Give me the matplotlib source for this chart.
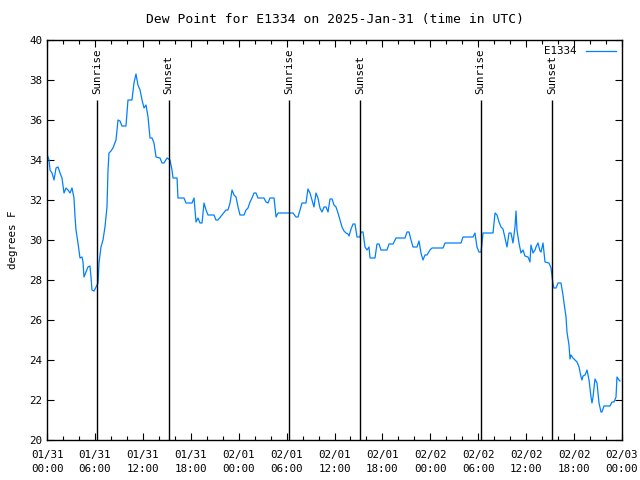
import matplotlib
matplotlib.use('Agg')
import matplotlib.pyplot as plt
import matplotlib.dates as mdates
import pandas as pd

# hours after 2025-01-31 00:00 UTC
hours = [0.0, 0.25, 0.38, 0.63, 0.88, 1.13, 1.38, 1.63, 1.88, 2.13, 2.38, 2.63, 2.88, 3.13, 3.38,
         3.51, 3.63, 3.88, 4.13, 4.38, 4.51, 4.63, 4.88, 5.13, 5.38, 5.51, 5.63, 5.89, 6.14, 6.39,
         6.51, 6.76, 7.01, 7.26, 7.51, 7.64, 7.76, 8.01, 8.26, 8.64, 8.89, 9.14, 9.39, 9.89, 10.14,
         10.64, 10.89, 11.14, 11.39, 11.65, 11.90, 12.15, 12.40, 12.65, 12.90, 13.15, 13.40, 13.65,
         14.15, 14.40, 14.65, 15.03, 15.40, 15.65, 15.78, 16.28, 16.40, 17.15, 17.41, 18.16, 18.41,
         18.66, 18.91, 19.16, 19.41, 19.66, 19.91, 20.16, 20.91, 21.16, 21.41, 21.91, 22.41, 22.66,
         22.92, 23.17, 23.42, 23.67, 23.92, 24.17, 24.67, 24.92, 25.17, 25.42, 25.67, 25.92, 26.17,
         26.42, 27.17, 27.42, 27.67, 27.92, 28.43, 28.68, 28.93, 30.80, 31.18, 31.43, 31.68, 31.93,
         32.43, 32.68, 32.93, 33.18, 33.43, 33.68, 33.93, 34.18, 34.43, 34.69, 34.94, 35.19, 35.44,
         35.69, 35.94, 36.19, 36.44, 36.69, 36.94, 37.19, 37.44, 37.69, 37.82, 38.07, 38.32, 38.57,
         38.82, 39.19, 39.32, 39.57, 39.82, 40.07, 40.32, 40.45, 41.07, 41.32, 41.57, 41.82, 42.57,
         42.83, 43.33, 43.70, 44.83, 45.08, 45.33, 45.58, 45.83, 46.33, 46.58, 46.83, 47.08, 47.33,
         47.58, 47.96, 48.21, 49.59, 49.84, 51.84, 52.09, 53.34, 53.59, 53.84, 54.09, 54.35, 54.60,
         55.85, 56.10, 56.35, 56.60, 56.85, 57.10, 57.35, 57.60, 57.85, 58.10, 58.35, 58.60, 58.73,
         58.85, 59.10, 59.35, 59.60, 59.85, 60.23, 60.48, 60.60, 60.86, 61.11, 61.23, 61.48, 61.73,
         61.86, 62.11, 62.36, 62.86, 63.11, 63.36, 63.48, 63.74, 63.99, 64.36, 64.61, 64.74, 64.99,
         65.11, 65.36, 65.49, 65.61, 65.86, 65.99, 66.37, 66.62, 66.87, 66.99, 67.12, 67.37, 67.62,
         67.87, 68.12, 68.24, 68.37, 68.62, 68.87, 69.12, 69.37, 69.49, 69.74, 70.50, 70.75, 71.00,
         71.25, 71.37, 71.62, 71.75]
dewpoint = [34.3, 34.0, 33.5, 33.35, 33.0, 33.6, 33.65, 33.35, 33.1, 32.35, 32.6, 32.5, 32.35, 32.6, 32.1,
            31.15, 30.5, 29.85, 29.1, 29.15, 28.9, 28.15, 28.4, 28.65, 28.7, 28.15, 27.5, 27.45, 27.65, 27.85,
            28.85, 29.65, 30.0, 30.65, 31.65, 33.5, 34.35, 34.45, 34.6, 35.0, 36.0, 35.95, 35.7, 35.7, 37.0,
            37.0, 37.85, 38.3, 37.75, 37.5, 37.0, 36.6, 36.75, 36.15, 35.1, 35.1, 34.85, 34.15,
            34.1, 33.85, 33.85, 34.1, 34.0, 33.5, 33.1, 33.1, 32.1, 32.1, 31.85, 31.85, 32.1,
            30.9, 31.1, 30.85, 30.85, 31.85, 31.5, 31.25, 31.25, 31.0, 31.0, 31.25, 31.5, 31.5,
            31.85, 32.5, 32.25, 32.15, 31.65, 31.25, 31.25, 31.5, 31.6, 31.9, 32.1, 32.35, 32.35,
            32.1, 32.1, 31.9, 31.85, 32.1, 32.1, 31.15, 31.35, 31.35, 31.15, 31.15, 31.5, 31.85,
            31.85, 32.55, 32.35, 32.0, 31.65, 32.35, 32.1, 31.6, 31.4, 31.65, 31.65, 31.4, 32.05,
            32.05, 31.75, 31.65, 31.35, 31.0, 30.65, 30.45, 30.35, 30.3, 30.2, 30.55, 30.8, 30.8,
            30.15, 30.15, 30.4, 30.4, 29.65, 29.5, 29.65, 29.1, 29.1, 29.8, 29.8, 29.5, 29.5,
            29.8, 29.8, 30.1, 30.1, 30.4, 30.4, 30.0, 29.65, 29.65, 29.95, 29.35, 29.0, 29.25,
            29.25, 29.5, 29.6, 29.6, 29.85, 29.85, 30.15, 30.15, 30.35, 29.65, 29.4, 29.4, 30.35,
            30.35, 31.35, 31.25, 30.9, 30.65, 30.55, 30.1, 29.65, 30.35, 30.35, 29.85, 30.65, 31.45,
            30.5, 29.85, 29.35, 29.5, 29.2, 29.15, 28.9, 29.75, 29.35, 29.5, 29.65, 29.85, 29.45,
            29.4, 29.85, 28.9, 28.85, 28.6, 27.8, 27.6, 27.6, 27.85, 27.85, 27.25, 26.85, 26.15,
            25.4, 24.75, 24.05, 24.25, 24.1, 24.05, 23.9, 23.65, 23.15, 23.0, 23.2, 23.25, 23.5,
            23.0, 22.15, 21.85, 22.15, 23.05, 22.85, 21.85, 21.4, 21.4, 21.7, 21.7, 21.9, 21.9,
            22.15, 23.15, 23.0, 22.95]

sun_labels = ['Sunrise', 'Sunset', 'Sunrise', 'Sunset', 'Sunrise', 'Sunset']
sun_hours = [6.3, 15.23, 30.35, 39.23, 54.3, 63.28]

start = pd.Timestamp('2025-01-31 00:00')
times = start + pd.to_timedelta(hours, unit='h')
sun_times = start + pd.to_timedelta(sun_hours, unit='h')

plt.rcParams['font.family'] = 'DejaVu Sans Mono'
plt.rcParams['font.size'] = 7.8

fig = plt.figure(figsize=(6.4, 4.8), dpi=100)
ax = fig.add_axes([47 / 640, 40 / 480, 575 / 640, 400 / 480])

ax.plot(times, dewpoint, color='#0080ff', lw=0.9, label='E1334')

for t, lab in zip(sun_times, sun_labels):
    ax.vlines(t, 20, 37, color='black', lw=1)
    ax.text(t, 37.3, lab, rotation=90, ha='center', va='bottom')

ax.set_xlim(start, start + pd.Timedelta(hours=72))
ax.set_ylim(20, 40)
ax.set_yticks(range(20, 41, 2))
ax.xaxis.set_major_locator(mdates.HourLocator(byhour=range(0, 24, 6)))
ax.xaxis.set_minor_locator(mdates.HourLocator(byhour=range(0, 24, 2)))
ax.xaxis.set_major_formatter(mdates.DateFormatter('%m/%d\n%H:%M'))
ax.tick_params(which='major', direction='in', length=5, width=0.8, top=True, right=True)
ax.tick_params(axis='x', which='major', pad=7)
ax.tick_params(which='minor', direction='in', length=3, width=0.8, top=True)
for lbl in ax.get_xticklabels():
    lbl.set_linespacing(1.5)
for s in ax.spines.values():
    s.set_linewidth(1)

ax.set_title('Dew Point for E1334 on 2025-Jan-31 (time in UTC)', pad=12)
ax.set_ylabel('degrees F', labelpad=8)
ax.legend(loc='upper right', frameon=False, markerfirst=False, handlelength=2.7,
          borderaxespad=0.3, borderpad=0.3, handletextpad=0.9)

fig.savefig('out.png', dpi=100)
